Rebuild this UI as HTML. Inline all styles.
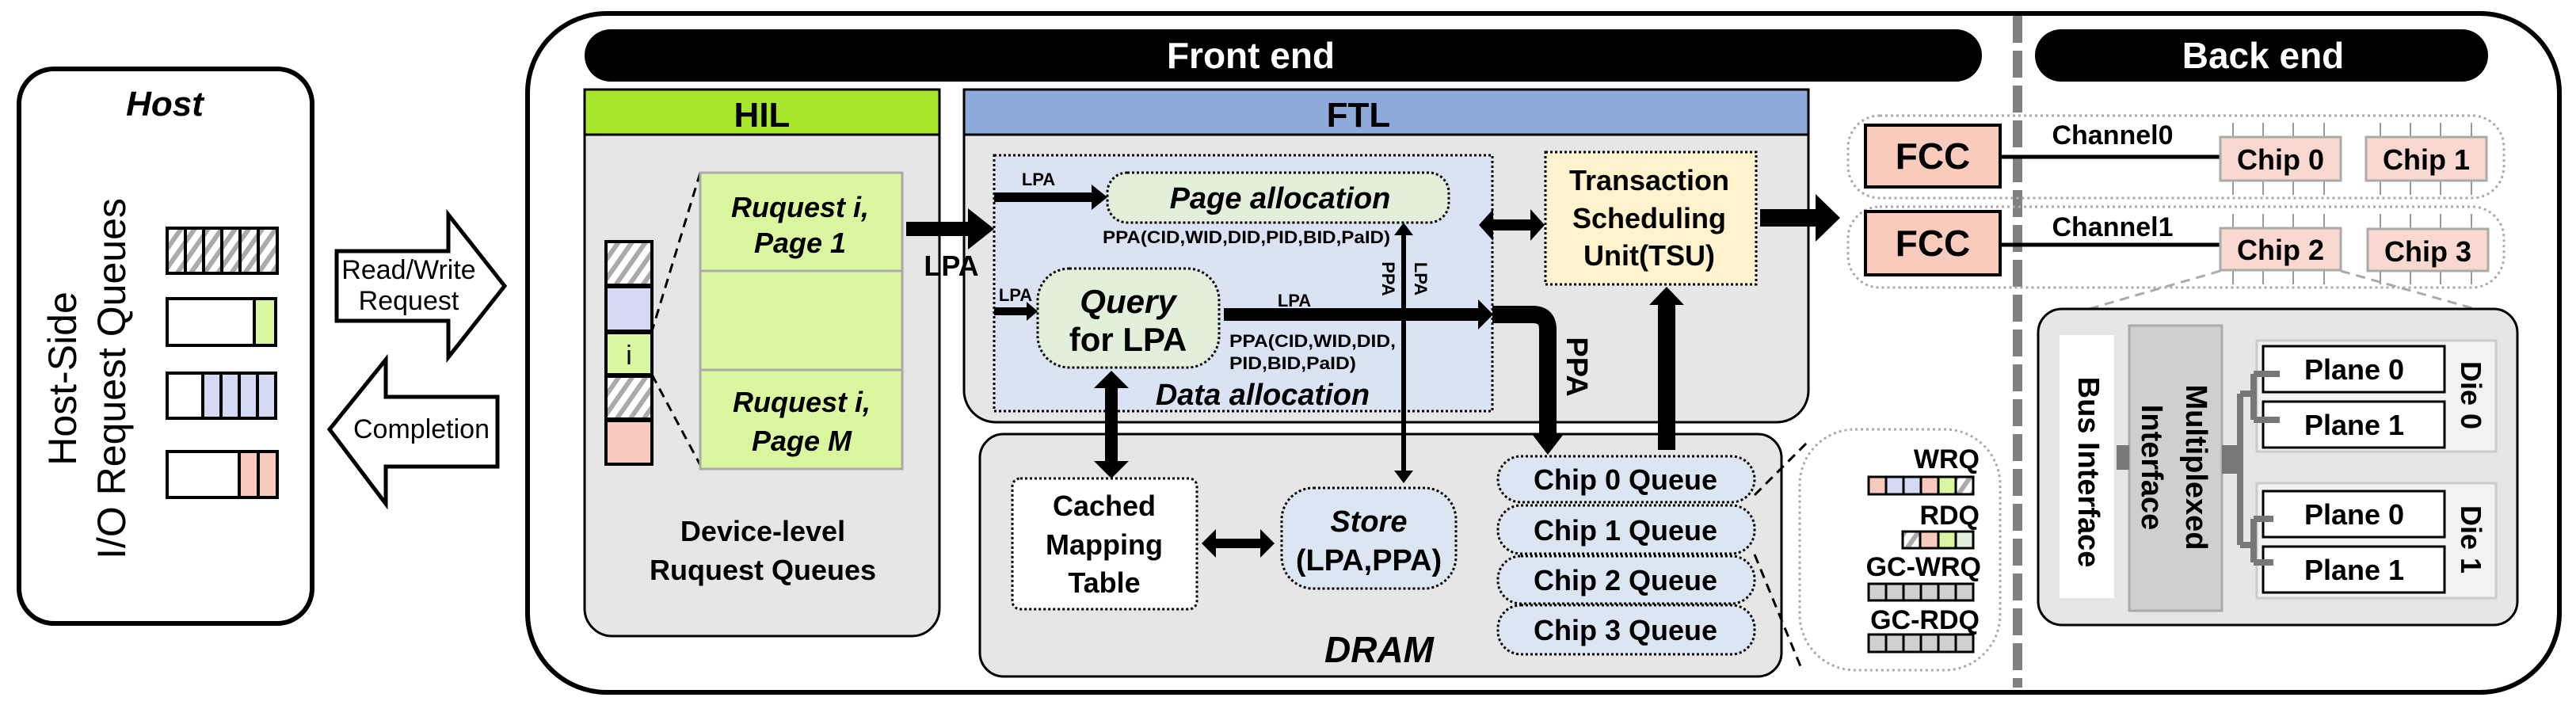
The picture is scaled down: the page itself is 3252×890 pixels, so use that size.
<!DOCTYPE html>
<html><head><meta charset="utf-8"><style>
html,body{margin:0;padding:0;background:#fff}
svg{display:block}
text{font-family:"Liberation Sans",Arial,sans-serif}
.b{font-weight:bold}
.i{font-style:italic}
</style></head><body>
<svg width="3252" height="890" viewBox="0 0 3252 890" xmlns="http://www.w3.org/2000/svg">
<defs>
<pattern id="h" width="14" height="14" patternUnits="userSpaceOnUse" patternTransform="rotate(35)">
<rect width="14" height="14" fill="#fff"/><rect width="6" height="14" fill="#aaa"/>
</pattern>
</defs>

<!-- Host -->
<rect x="24" y="87" width="370" height="700" rx="44" fill="#fff" stroke="#000" stroke-width="6"/>
<text x="208" y="146" font-size="44" class="b i" text-anchor="middle">Host</text>
<text transform="translate(96,478) rotate(-90)" font-size="50" text-anchor="middle">Host-Side</text>
<text transform="translate(158,478) rotate(-90)" font-size="50" text-anchor="middle">I/O Request Queues</text>
<g stroke="#000" stroke-width="4">
<rect x="211" y="288" width="139" height="57" fill="url(#h)"/>
<line x1="234" y1="288" x2="234" y2="345"/><line x1="257" y1="288" x2="257" y2="345"/><line x1="280" y1="288" x2="280" y2="345"/><line x1="303" y1="288" x2="303" y2="345"/><line x1="326" y1="288" x2="326" y2="345"/>
<rect x="211" y="377" width="137" height="59" fill="#fff"/><rect x="321" y="377" width="27" height="59" fill="#d9f7a0"/>
<rect x="211" y="471" width="137" height="57" fill="#fff"/>
<rect x="256" y="471" width="23" height="57" fill="#d4daf3"/><rect x="279" y="471" width="23" height="57" fill="#d4daf3"/><rect x="302" y="471" width="23" height="57" fill="#d4daf3"/><rect x="325" y="471" width="23" height="57" fill="#d4daf3"/>
<rect x="211" y="570" width="139" height="58" fill="#fff"/>
<rect x="302" y="570" width="24" height="58" fill="#f8c9bd"/><rect x="326" y="570" width="24" height="58" fill="#f8c9bd"/>
</g>

<!-- Read/Write & Completion arrows -->
<polygon points="425,317 566,317 566,271 637,361 566,451 566,405 425,405" fill="#fff" stroke="#000" stroke-width="5"/>
<text x="516" y="352" font-size="34" text-anchor="middle">Read/Write</text>
<text x="516" y="391" font-size="34" text-anchor="middle">Request</text>
<polygon points="628,501 487,501 487,454 416,542 487,636 487,589 628,589" fill="#fff" stroke="#000" stroke-width="5"/>
<text x="532" y="553" font-size="34" text-anchor="middle">Completion</text>

<!-- Outer box -->
<rect x="666" y="17" width="2565" height="857" rx="100" fill="#fff" stroke="#000" stroke-width="6"/>
<rect x="738" y="37" width="1764" height="66" rx="33" fill="#000"/>
<text x="1579" y="86" font-size="46" class="b" fill="#fff" text-anchor="middle">Front end</text>
<rect x="2569" y="37" width="572" height="66" rx="33" fill="#000"/>
<text x="2857" y="86" font-size="46" class="b" fill="#fff" text-anchor="middle">Back end</text>
<line x1="2547" y1="20" x2="2547" y2="868" stroke="#808080" stroke-width="12" stroke-dasharray="34,10"/>

<!-- HIL -->
<path d="M738,170 H1186 V768 a35,35 0 0 1 -35,35 H773 a35,35 0 0 1 -35,-35 Z" fill="#e6e6e6" stroke="#000" stroke-width="3"/>
<rect x="738" y="113" width="448" height="57" fill="#a8e62c" stroke="#000" stroke-width="3"/>
<text x="962" y="160" font-size="44" class="b" text-anchor="middle">HIL</text>
<g stroke="#000" stroke-width="4">
<rect x="765" y="305" width="58" height="55" fill="url(#h)"/>
<rect x="765" y="362" width="58" height="56" fill="#d4daf3"/>
<rect x="765" y="420" width="58" height="53" fill="#d9f7a0"/>
<rect x="765" y="475" width="58" height="54" fill="url(#h)"/>
<rect x="765" y="531" width="58" height="55" fill="#f8c9bd"/>
</g>
<text x="794" y="460" font-size="34" text-anchor="middle">i</text>
<line x1="884" y1="218" x2="823" y2="418" stroke="#000" stroke-width="3" stroke-dasharray="12,8"/>
<line x1="823" y1="473" x2="884" y2="587" stroke="#000" stroke-width="3" stroke-dasharray="12,8"/>
<g fill="#daf7a0" stroke="#aaa" stroke-width="3">
<rect x="884" y="218" width="255" height="124"/><rect x="884" y="342" width="255" height="125"/><rect x="884" y="467" width="255" height="125"/>
</g>
<g font-size="36" class="b i" text-anchor="middle">
<text x="1010" y="274">Ruquest i,</text><text x="1010" y="319">Page 1</text>
<text x="1012" y="520">Ruquest i,</text><text x="1012" y="569">Page M</text>
</g>
<text x="963" y="683" font-size="36" class="b" text-anchor="middle">Device-level</text>
<text x="963" y="732" font-size="36" class="b" text-anchor="middle">Ruquest Queues</text>

<!-- FTL -->
<path d="M1217,170 H2283 V493 a40,40 0 0 1 -40,40 H1257 a40,40 0 0 1 -40,-40 Z" fill="#e6e6e6" stroke="#000" stroke-width="3"/>
<rect x="1217" y="113" width="1066" height="57" fill="#8eaadb" stroke="#000" stroke-width="3"/>
<text x="1715" y="160" font-size="44" class="b" text-anchor="middle">FTL</text>
<rect x="1255" y="196" width="629" height="323" fill="#dae3f3" stroke="#000" stroke-width="3" stroke-dasharray="3,3"/>
<rect x="1398" y="218" width="431" height="63" rx="25" fill="#e2efda" stroke="#000" stroke-width="3" stroke-dasharray="3,3"/>
<text x="1616" y="263" font-size="38" class="b i" text-anchor="middle">Page allocation</text>
<text x="1392" y="307" font-size="22" class="b" textLength="363" lengthAdjust="spacingAndGlyphs">PPA(CID,WID,DID,PID,BID,PaID)</text>
<rect x="1310" y="339" width="229" height="125" rx="40" fill="#e2efda" stroke="#000" stroke-width="3" stroke-dasharray="3,3"/>
<text x="1424" y="395" font-size="42" class="b i" text-anchor="middle">Query</text>
<text x="1424" y="443" font-size="42" class="b" text-anchor="middle">for LPA</text>
<text x="1552" y="438" font-size="22" class="b" textLength="210" lengthAdjust="spacingAndGlyphs">PPA(CID,WID,DID,</text>
<text x="1552" y="466" font-size="22" class="b" textLength="160" lengthAdjust="spacingAndGlyphs">PID,BID,PaID)</text>
<text x="1594" y="511" font-size="38" class="b i" text-anchor="middle">Data allocation</text>
<text x="1311" y="234" font-size="22" class="b" text-anchor="middle">LPA</text>
<text x="1282" y="380" font-size="22" class="b" text-anchor="middle">LPA</text>
<text x="1634" y="387" font-size="22" class="b" text-anchor="middle">LPA</text>
<text x="1201" y="348" font-size="36" class="b" text-anchor="middle">LPA</text>
<text transform="translate(1745,352) rotate(90)" font-size="22" class="b" text-anchor="middle">PPA</text>
<text transform="translate(1786,352) rotate(90)" font-size="22" class="b" text-anchor="middle">LPA</text>
<text transform="translate(1978,463) rotate(90)" font-size="38" class="b" text-anchor="middle">PPA</text>

<!-- TSU -->
<rect x="1951" y="192" width="266" height="167" fill="#fff2cc" stroke="#000" stroke-width="3" stroke-dasharray="3,3"/>
<g font-size="36" class="b" text-anchor="middle">
<text x="2082" y="240">Transaction</text><text x="2082" y="288">Scheduling</text><text x="2082" y="335">Unit(TSU)</text>
</g>

<!-- DRAM -->
<rect x="1237" y="548" width="1012" height="306" rx="30" fill="#e6e6e6" stroke="#000" stroke-width="3"/>
<rect x="1278" y="604" width="233" height="165" rx="10" fill="#fff" stroke="#000" stroke-width="3" stroke-dasharray="3,3"/>
<g font-size="36" class="b" text-anchor="middle">
<text x="1394" y="651">Cached</text><text x="1394" y="700">Mapping</text><text x="1394" y="748">Table</text>
</g>
<rect x="1618" y="616" width="220" height="127" rx="40" fill="#dce6f2" stroke="#000" stroke-width="3" stroke-dasharray="3,3"/>
<text x="1728" y="671" font-size="38" class="b i" text-anchor="middle">Store</text>
<text x="1728" y="720" font-size="38" class="b" text-anchor="middle">(LPA,PPA)</text>
<text x="1741" y="836" font-size="46" class="b i" text-anchor="middle">DRAM</text>
<g fill="#dce6f2" stroke="#000" stroke-width="3" stroke-dasharray="3,3">
<rect x="1891" y="576" width="324" height="58" rx="29"/><rect x="1891" y="638" width="324" height="61" rx="29"/>
<rect x="1891" y="702" width="324" height="60" rx="29"/><rect x="1891" y="764" width="324" height="62" rx="29"/>
</g>
<g font-size="36" class="b" text-anchor="middle">
<text x="2052" y="618">Chip 0 Queue</text><text x="2052" y="682">Chip 1 Queue</text>
<text x="2052" y="745">Chip 2 Queue</text><text x="2052" y="808">Chip 3 Queue</text>
</g>

<!-- arrows -->
<g fill="#000">
<polygon points="1144,280 1222,280 1222,263 1255,289 1222,315 1222,298 1144,298"/>
<polygon points="1255,243 1378,243 1378,233 1398,249 1378,265 1378,255 1255,255"/>
<polygon points="1255,388 1296,388 1296,381 1310,393 1296,405 1296,398 1255,398"/>
<polygon points="1545,389 1866,389 1866,378 1885,397 1866,416 1866,405 1545,405"/>
<polygon points="1867,284 1885,264 1885,277 1932,277 1932,264 1950,284 1932,304 1932,291 1885,291 1885,304"/>
<polygon points="2222,264 2292,264 2292,245 2323,275 2292,305 2292,286 2222,286"/>
<polygon points="2093,568 2093,385 2082,385 2104,362 2126,385 2115,385 2115,568"/>
<polygon points="1403,468 1425,490 1411,490 1411,582 1425,582 1403,604 1381,582 1395,582 1395,490 1381,490"/>
<polygon points="1517,686 1535,668 1535,680 1591,680 1591,668 1609,686 1591,704 1591,692 1535,692 1535,704"/>
<polygon points="1772,281 1784,297 1775,297 1775,594 1784,594 1772,610 1760,594 1769,594 1769,297 1760,297"/>
<polygon points="1934,548 1974,548 1954,574"/>
</g>
<path d="M1884,397 H1935 Q1954,397 1954,416 V550" fill="none" stroke="#000" stroke-width="22"/>

<!-- queue popup -->
<line x1="2215" y1="625" x2="2285" y2="555" stroke="#000" stroke-width="3" stroke-dasharray="12,8"/>
<line x1="2215" y1="700" x2="2275" y2="846" stroke="#000" stroke-width="3" stroke-dasharray="12,8"/>
<rect x="2272" y="542" width="253" height="304" rx="70" fill="#fff" stroke="#aaa" stroke-width="3" stroke-dasharray="3,4"/>
<g font-size="34" class="b" text-anchor="end">
<text x="2499" y="591">WRQ</text><text x="2499" y="662">RDQ</text><text x="2501" y="727">GC-WRQ</text><text x="2499" y="794">GC-RDQ</text>
</g>
<g stroke="#000" stroke-width="3">
<rect x="2359" y="602" width="22" height="22" fill="#f8c9bd"/><rect x="2381" y="602" width="22" height="22" fill="#d4daf3"/><rect x="2403" y="602" width="22" height="22" fill="#d4daf3"/><rect x="2425" y="602" width="22" height="22" fill="#f8c9bd"/><rect x="2447" y="602" width="22" height="22" fill="#d9f7a0"/><rect x="2469" y="602" width="22" height="22" fill="url(#h)"/>
<rect x="2402" y="671" width="22" height="21" fill="url(#h)"/><rect x="2424" y="671" width="23" height="21" fill="#f8c9bd"/><rect x="2447" y="671" width="22" height="21" fill="#d9f7a0"/><rect x="2469" y="671" width="22" height="21" fill="#e2efda"/>
<g fill="#d0d0d0">
<rect x="2359" y="737" width="22" height="21"/><rect x="2381" y="737" width="22" height="21"/><rect x="2403" y="737" width="22" height="21"/><rect x="2425" y="737" width="22" height="21"/><rect x="2447" y="737" width="22" height="21"/><rect x="2469" y="737" width="22" height="21"/>
<rect x="2359" y="801" width="22" height="22"/><rect x="2381" y="801" width="22" height="22"/><rect x="2403" y="801" width="22" height="22"/><rect x="2425" y="801" width="22" height="22"/><rect x="2447" y="801" width="22" height="22"/><rect x="2469" y="801" width="22" height="22"/>
</g></g>

<!-- Back end channels -->
<rect x="2333" y="146" width="828" height="104" rx="40" fill="none" stroke="#aaa" stroke-width="3" stroke-dasharray="3,4"/>
<rect x="2333" y="261" width="828" height="102" rx="40" fill="none" stroke="#aaa" stroke-width="3" stroke-dasharray="3,4"/>
<rect x="2355" y="158" width="170" height="78" fill="#f8cbbd" stroke="#000" stroke-width="4"/>
<rect x="2355" y="267" width="170" height="80" fill="#f8cbbd" stroke="#000" stroke-width="4"/>
<text x="2440" y="213" font-size="46" class="b" text-anchor="middle">FCC</text>
<text x="2440" y="323" font-size="46" class="b" text-anchor="middle">FCC</text>
<line x1="2525" y1="198" x2="2803" y2="198" stroke="#000" stroke-width="5"/>
<line x1="2525" y1="309" x2="2803" y2="309" stroke="#000" stroke-width="5"/>
<text x="2667" y="182" font-size="34" class="b" text-anchor="middle">Channel0</text>
<text x="2667" y="298" font-size="34" class="b" text-anchor="middle">Channel1</text>
<g stroke="#999" stroke-width="2">
<path d="M2819,155V173M2857,155V173M2895,155V173M2934,155V173M2819,228V246M2857,228V246M2895,228V246M2934,228V246"/>
<path d="M3005,155V173M3043,155V173M3081,155V173M3120,155V173M3005,228V246M3043,228V246M3081,228V246M3120,228V246"/>
<path d="M2819,270V288M2857,270V288M2895,270V288M2934,270V288M2819,341V359M2857,341V359M2895,341V359M2934,341V359"/>
<path d="M3005,270V288M3043,270V288M3081,270V288M3120,270V288M3005,341V359M3043,341V359M3081,341V359M3120,341V359"/>
</g>
<g fill="#f8d8cf" stroke="#aaa" stroke-width="3">
<rect x="2803" y="173" width="152" height="55"/><rect x="2987" y="173" width="152" height="55"/>
<rect x="2803" y="288" width="152" height="53"/><rect x="2989" y="289" width="152" height="53"/>
</g>
<g font-size="36" class="b" text-anchor="middle">
<text x="2879" y="214">Chip 0</text><text x="3063" y="214">Chip 1</text>
<text x="2879" y="328">Chip 2</text><text x="3065" y="330">Chip 3</text>
</g>
<line x1="2803" y1="342" x2="2630" y2="392" stroke="#aaa" stroke-width="3" stroke-dasharray="12,8"/>
<line x1="2955" y1="342" x2="3160" y2="400" stroke="#aaa" stroke-width="3" stroke-dasharray="12,8"/>

<!-- Die detail -->
<rect x="2573" y="390" width="605" height="399" rx="30" fill="#e6e6e6" stroke="#000" stroke-width="3"/>
<rect x="2600" y="423" width="69" height="332" fill="#fff"/>
<text transform="translate(2624,596) rotate(90)" font-size="38" class="b" text-anchor="middle">Bus Interface</text>
<rect x="2688" y="411" width="117" height="360" fill="#d0cece" stroke="#aaa" stroke-width="3"/>
<text transform="translate(2760,590) rotate(90)" font-size="38" class="b" text-anchor="middle">Multiplexed</text>
<text transform="translate(2704,590) rotate(90)" font-size="38" class="b" text-anchor="middle">Interface</text>
<rect x="2672" y="562" width="16" height="31" fill="#777"/>
<rect x="2849" y="430" width="302" height="140" fill="#f2f2f2" stroke="#ccc" stroke-width="3"/>
<rect x="2849" y="610" width="302" height="145" fill="#f2f2f2" stroke="#ccc" stroke-width="3"/>
<g fill="#fff" stroke="#000" stroke-width="3">
<rect x="2857" y="437" width="229" height="58"/><rect x="2857" y="507" width="229" height="58"/>
<rect x="2857" y="620" width="229" height="58"/><rect x="2857" y="690" width="229" height="58"/>
</g>
<g font-size="36" class="b" text-anchor="middle">
<text x="2972" y="479">Plane 0</text><text x="2972" y="549">Plane 1</text>
<text x="2972" y="662">Plane 0</text><text x="2972" y="732">Plane 1</text>
</g>
<text transform="translate(3107,499) rotate(90)" font-size="36" class="b" text-anchor="middle">Die 0</text>
<text transform="translate(3107,681) rotate(90)" font-size="36" class="b" text-anchor="middle">Die 1</text>
<g stroke="#777" fill="none" stroke-width="8">
<path d="M2805,580 H2828 M2828,497 V688 M2828,497 H2845 M2828,688 H2845"/>
<path d="M2845,472 V530 M2845,472 H2878 M2845,530 H2878"/>
<path d="M2845,655 V710 M2845,655 H2870 M2845,710 H2870"/>
</g>
<rect x="2805" y="562" width="22" height="36" fill="#777"/>
</svg>
</body></html>
